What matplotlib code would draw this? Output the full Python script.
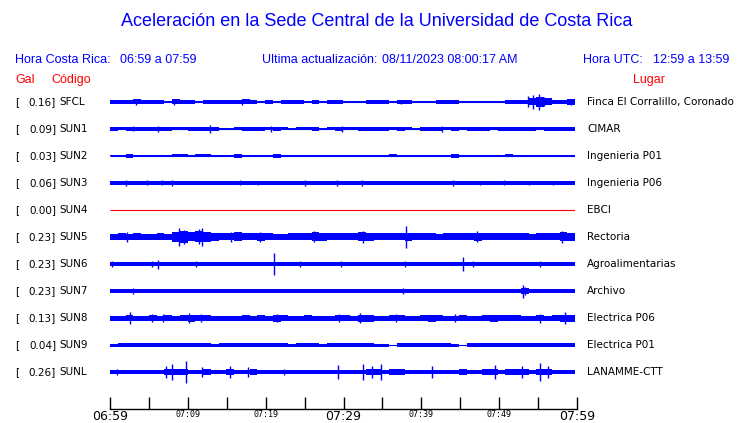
import numpy as np
import matplotlib
matplotlib.use("Agg")
import matplotlib.pyplot as plt

# station codes, peak values (Gal) and site names
codes = ["SFCL", "SUN1", "SUN2", "SUN3", "SUN4", "SUN5", "SUN6", "SUN7", "SUN8", "SUN9", "SUNL"]
peaks = ["0.16", "0.09", "0.03", "0.06", "0.00", "0.23", "0.23", "0.23", "0.13", "0.04", "0.26"]
sites = ["Finca El Corralillo, Coronado", "CIMAR", "Ingenieria P01", "Ingenieria P06", "EBCI",
         "Rectoria", "Agroalimentarias", "Archivo", "Electrica P06", "Electrica P01", "LANAMME-CTT"]

# per-minute envelope of each trace (half amplitude, in screen px of the original plot)
env_sfcl = [2.0, 2.0, 2.0, 2.5, 2.0, 1.7, 2.0, 1.2, 2.5, 2.0, 1.7, 1.2, 2.0, 2.0, 2.0, 2.0, 2.0, 2.5, 1.7, 0.5,
            1.7, 1.2, 2.0, 2.0, 2.0, 1.2, 2.0, 1.2, 2.0, 1.7, 0.5, 0.5, 1.2, 2.0, 2.0, 2.0, 0.5, 2.0, 1.7, 1.2,
            1.2, 0.5, 2.0, 2.0, 1.7, 1.2, 0.5, 1.2, 0.5, 0.5, 0.5, 2.0, 2.0, 2.0, 3.5, 5.0, 3.5, 2.0, 2.0, 3.0]
env_sun1 = [1.7, 1.5, 1.7, 2.0, 1.7, 2.0, 2.0, 2.0, 1.5, 1.5, 1.7, 2.0, 2.0, 1.7, 1.2, 1.2, 1.5, 2.0, 2.0, 1.7,
            1.5, 1.7, 1.5, 1.2, 1.5, 1.5, 1.7, 1.2, 1.5, 1.7, 1.5, 1.5, 1.7, 2.0, 2.0, 2.0, 1.5, 1.7, 1.5, 1.2,
            2.0, 2.0, 1.7, 1.5, 1.7, 1.5, 1.7, 2.0, 1.7, 1.5, 1.7, 1.7, 2.0, 1.7, 1.7, 1.5, 2.0, 2.0, 1.7, 2.0]
env_sun2 = [0.5, 1.0, 1.7, 0.5, 0.5, 1.0, 0.5, 1.2, 1.5, 1.5, 0.5, 1.5, 1.5, 0.5, 0.5, 0.5, 1.7, 1.0, 0.5, 1.0,
            0.5, 1.7, 0.5, 1.0, 0.5, 0.5, 0.5, 0.5, 0.5, 1.2, 0.5, 0.5, 1.2, 1.2, 0.5, 0.5, 1.5, 1.0, 0.5, 1.0,
            1.0, 0.5, 0.5, 0.5, 1.7, 0.5, 0.5, 1.0, 0.5, 0.5, 1.2, 1.5, 1.2, 0.5, 0.5, 0.5, 0.5, 1.2, 1.0, 0.5]
env_sun3 = [1.7, 1.7, 2.2, 1.7, 1.7, 1.7, 1.7, 1.7, 2.2, 2.2, 1.7, 2.2, 1.7, 1.7, 1.7, 1.7, 1.7, 1.7, 1.7, 1.7,
            1.7, 2.2, 1.7, 1.7, 1.7, 1.7, 1.7, 1.7, 1.7, 2.2, 1.7, 1.7, 2.0, 1.7, 1.7, 1.7, 2.0, 1.7, 1.7, 1.7,
            1.7, 1.7, 1.7, 1.7, 2.2, 1.7, 1.7, 1.7, 1.7, 1.7, 2.2, 1.7, 1.7, 1.7, 1.7, 1.7, 1.7, 2.0, 1.7, 1.7]
env_sun4 = [0.0] * 60
env_sun5 = [3.3, 3.5, 3.3, 3.5, 3.3, 3.3, 3.5, 3.3, 5.0, 6.0, 4.5, 5.5, 5.0, 4.0, 3.5, 3.5, 4.5, 3.5, 3.5, 4.0,
            3.5, 3.3, 3.3, 3.5, 3.5, 3.5, 4.5, 4.0, 3.5, 3.5, 3.5, 3.5, 4.5, 4.0, 3.5, 3.5, 3.5, 3.5, 4.0, 3.5,
            3.5, 3.5, 3.3, 3.5, 3.5, 3.5, 3.5, 4.0, 3.5, 3.5, 3.5, 3.5, 3.5, 3.5, 3.3, 3.5, 3.5, 3.5, 4.5, 4.0]
env_sun6 = [2.0, 2.0, 1.7, 1.7, 1.7, 1.7, 2.3, 1.7, 1.7, 1.7, 1.7, 2.0, 1.7, 1.7, 1.7, 1.7, 1.7, 1.7, 1.7, 2.2,
            1.7, 1.7, 1.7, 1.7, 1.7, 1.7, 1.7, 1.7, 1.7, 2.2, 2.0, 1.7, 1.7, 1.7, 1.7, 1.7, 1.7, 1.7, 2.2, 1.7,
            1.7, 1.7, 2.0, 2.0, 1.7, 1.7, 2.2, 2.2, 1.7, 1.7, 1.7, 1.7, 1.7, 1.7, 2.3, 2.0, 1.7, 1.7, 1.7, 1.7]
env_sun7 = [1.7, 1.7, 1.7, 2.3, 1.7, 1.7, 2.3, 2.0, 1.7, 2.3, 2.0, 2.0, 2.0, 2.3, 2.0, 1.7, 2.0, 2.0, 2.0, 2.0,
            1.7, 2.0, 2.0, 1.7, 2.0, 2.0, 2.0, 1.7, 1.7, 1.7, 1.7, 2.0, 1.7, 2.0, 1.7, 2.0, 1.7, 2.3, 2.0, 1.7,
            2.0, 2.0, 1.7, 2.0, 1.7, 2.3, 2.3, 1.7, 2.0, 2.0, 2.0, 2.0, 1.7, 2.7, 2.0, 2.0, 2.3, 2.0, 2.0, 2.3]
env_sun8 = [2.5, 2.5, 2.7, 2.5, 2.5, 3.0, 2.5, 3.3, 2.5, 3.0, 3.5, 2.7, 3.3, 2.5, 2.5, 2.5, 2.5, 3.3, 2.5, 2.7,
            2.5, 3.5, 3.0, 2.5, 2.5, 2.7, 2.5, 2.5, 2.5, 3.3, 3.0, 2.5, 3.5, 3.5, 2.5, 2.5, 2.7, 3.3, 2.5, 2.5,
            3.3, 3.5, 3.3, 2.5, 2.5, 3.3, 2.5, 2.5, 3.3, 3.5, 3.3, 3.3, 3.0, 2.5, 2.5, 3.3, 2.5, 2.7, 3.5, 3.5]
env_sun9 = [1.5, 1.6, 1.7, 1.7, 1.6, 1.6, 1.7, 1.6, 1.7, 1.6, 1.6, 1.7, 1.6, 1.5, 1.7, 1.7, 1.7, 1.6, 1.6, 1.6,
            1.7, 1.6, 1.7, 1.5, 1.6, 1.6, 1.7, 1.5, 1.6, 1.7, 1.7, 1.6, 2.0, 1.8, 1.5, 1.5, 0.5, 1.8, 1.6, 1.7,
            1.7, 1.7, 1.6, 1.6, 1.5, 0.5, 1.6, 1.6, 1.7, 1.6, 1.6, 1.7, 1.6, 1.7, 1.7, 1.6, 1.6, 1.6, 1.7, 1.6]
env_sunl = [2.3, 2.3, 2.0, 1.7, 1.7, 2.3, 1.7, 3.0, 3.3, 3.3, 1.7, 2.3, 3.0, 1.7, 1.7, 3.0, 2.0, 1.7, 3.0, 1.7,
            1.7, 1.7, 2.3, 1.7, 1.7, 2.3, 2.3, 1.7, 1.7, 2.0, 2.0, 1.7, 2.0, 3.3, 3.0, 2.3, 2.7, 2.7, 1.7, 1.7,
            1.7, 2.3, 1.7, 1.7, 2.3, 3.0, 2.0, 1.7, 3.0, 3.3, 2.3, 3.3, 3.3, 3.0, 2.0, 3.0, 3.0, 2.3, 1.7, 2.3]

# isolated peaks: (minute after 06:59, half amplitude px)
spk_sfcl = [(3.4, 2.7), (8.2, 2.7), (17.0, 2.7), (37.5, 2.3), (53.9, 5.5), (54.6, 7.0), (55.3, 8.0), (56.0, 4.5), (59.5, 3.0)]
spk_sun1 = [(3.0, 2.5), (6.2, 2.7), (12.9, 4.0), (20.8, 3.0), (29.9, 2.7), (42.8, 3.0)]
spk_sun2 = []
spk_sun3 = [(2.0, 3.0), (4.8, 2.5), (6.7, 2.5), (8.0, 2.8), (16.8, 2.5), (19.1, 2.3), (25.2, 2.7), (29.3, 2.7),
            (32.5, 3.0), (44.3, 2.8), (47.8, 2.3), (50.8, 2.5), (54.1, 2.3), (57.2, 2.3)]
spk_sun4 = []
spk_sun5 = [(2.2, 4.8), (8.9, 9.0), (9.6, 7.0), (11.5, 7.5), (11.9, 9.0), (15.6, 5.0), (19.4, 5.3), (26.3, 5.5),
            (32.6, 5.7), (38.2, 11.0), (47.3, 5.5), (58.3, 6.0)]
spk_sun6 = [(0.3, 3.0), (5.4, 2.7), (6.2, 4.5), (11.1, 3.0), (21.1, 11.0), (24.5, 3.0), (29.8, 3.0), (38.0, 3.0),
            (45.6, 7.0), (46.8, 2.7), (55.5, 3.0)]
spk_sun7 = [(3.0, 2.7), (37.8, 3.0), (53.3, 6.5), (53.6, 4.0)]
spk_sun8 = [(2.6, 5.7), (5.4, 4.0), (6.8, 4.0), (10.2, 5.0), (11.8, 4.0), (21.5, 4.3), (29.5, 4.0), (32.3, 5.3),
            (36.9, 4.0), (44.5, 4.0), (55.5, 4.5), (58.7, 6.0)]
spk_sun9 = []
spk_sunl = [(0.9, 3.0), (7.2, 6.0), (8.0, 8.0), (9.8, 11.0), (11.9, 5.0), (15.5, 6.0), (17.8, 5.0), (22.4, 3.3),
            (29.4, 7.0), (32.7, 8.0), (33.8, 6.0), (35.0, 8.0), (41.5, 6.0), (49.7, 7.0), (53.1, 6.0), (55.5, 9.0),
            (56.5, 6.0)]

envelopes = [env_sfcl, env_sun1, env_sun2, env_sun3, env_sun4, env_sun5, env_sun6, env_sun7, env_sun8, env_sun9, env_sunl]
spikes = [spk_sfcl, spk_sun1, spk_sun2, spk_sun3, spk_sun4, spk_sun5, spk_sun6, spk_sun7, spk_sun8, spk_sun9, spk_sunl]

tick_minutes = list(range(0, 61, 5))
tick_labels = ["06:59", "", "07:09", "", "07:19", "", "07:29", "", "07:39", "", "07:49", "", "07:59"]

W, H = 740, 423
BLUE = "#0000ff"
RED = "#ff0000"
fig = plt.figure(figsize=(W / 100, H / 100), dpi=100)
fig.patch.set_facecolor("white")


def put(x, y, s, **kw):
    fig.text(x / W, 1 - y / H, s, va="center", **kw)


put(377, 21, "Aceleración en la Sede Central de la Universidad de Costa Rica",
    ha="center", color=BLUE, fontsize=13, family="Liberation Sans")
hdr = dict(color=BLUE, fontsize=9, family="Liberation Sans")
put(15, 60, "Hora Costa Rica:", **hdr)
put(120, 60, "06:59 a 07:59", **hdr)
put(262, 60, "Ultima actualización:", **hdr)
put(382, 60, "08/11/2023 08:00:17 AM", **hdr)
put(583, 60, "Hora UTC:", **hdr)
put(653, 60, "12:59 a 13:59", **hdr)
red = dict(color=RED, fontsize=9, family="Liberation Sans")
put(15, 80, "Gal", **red)
put(51, 80, "Código", **red)
put(665, 80, "Lugar", ha="right", **red)

# trace panel, y in px units (row pitch 27 px)
pitch = 27
ax = fig.add_axes([110 / W, (H - 385) / H, 465 / W, (385 - 89) / H])
ax.set_xlim(0, 60)
ax.set_ylim(283, -13)
ax.axis("off")
edges = np.arange(61)
lab = dict(fontsize=7.5, color="black", family="DejaVu Sans")
for i in range(len(codes)):
    y0 = i * pitch
    col = RED if codes[i] == "SUN4" else BLUE
    ax.hlines(y0, 0, 60, color=col, lw=0.8)
    env = np.array(envelopes[i] + [envelopes[i][-1]])
    if env.max() > 0:
        ax.fill_between(edges, y0 - env, y0 + env, step="post", color=col, lw=0, antialiased=False)
    for m, h in spikes[i]:
        ax.vlines(m, y0 - h, y0 + h, color=col, lw=1.0)
    yp = 102 + y0
    put(15, yp, "[", **lab)
    put(56, yp, peaks[i] + "]", ha="right", **lab)
    put(59, yp, codes[i], **lab)
    put(587, yp, sites[i], **lab)

# time axis
tx = fig.add_axes([110 / W, (H - 409) / H, 467 / W, 0.001])
tx.set_xlim(0, 60)
tx.set_yticks([])
for s in ["left", "right", "top"]:
    tx.spines[s].set_visible(False)
tx.spines["bottom"].set_linewidth(1)
tx.set_xticks(tick_minutes, tick_labels)
tx.tick_params(axis="x", direction="in", length=9, width=1, pad=0.5)
for t, txt in zip(tx.get_xticklabels(), tick_labels):
    if txt in ("06:59", "07:29", "07:59"):
        t.set_fontsize(9)
    else:
        t.set_fontsize(6)
        t.set_family("DejaVu Sans Mono")

fig.savefig("out.png", dpi=100, facecolor="white")
